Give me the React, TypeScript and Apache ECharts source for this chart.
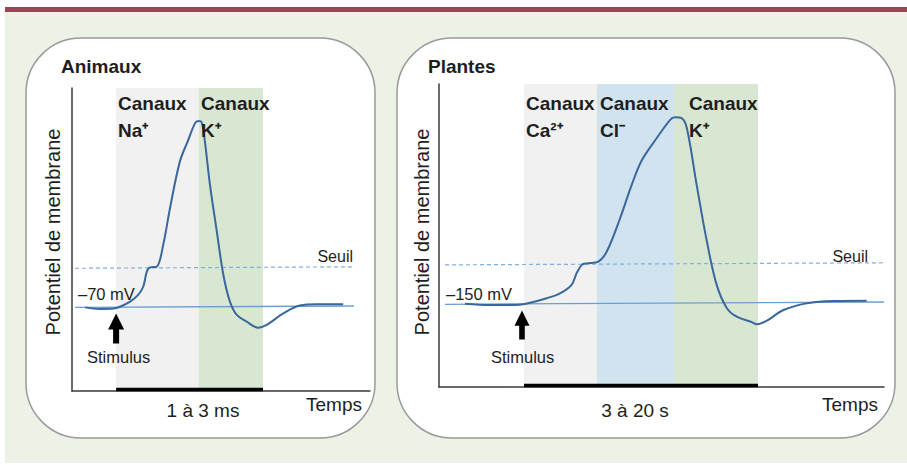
import React, { useEffect, useRef } from "react";
import * as echarts from "echarts";

// ---------- Data (relative units: time 0–100 along axis, potential 0–100 up the axis) ----------
// Animaux
const animalTime = [4.4, 9.4, 13.9, 16.1, 19.5, 22.2, 23.9, 25.1, 26.2, 28.4, 30.6, 32.9, 36.2, 39.0, 41.3, 42.4, 43.5, 44.6, 46.3, 48.6, 50.8, 53.0, 55.3, 58.6, 62.5, 65.3, 70.9, 76.5, 82.1, 91.0];
const animalPotential = [27.6, 27.1, 27.2, 27.8, 29.5, 31.7, 34.4, 39.4, 40.8, 41.0, 48.2, 60.4, 75.7, 82.8, 88.4, 89.1, 88.7, 82.3, 68.0, 52.6, 38.3, 29.5, 25.1, 22.9, 20.9, 21.8, 25.6, 28.2, 28.6, 28.6];
const animalChannelStart = [14.8, 42.6];
const animalChannelEnd = [42.6, 64.1];
const animalChannelIons = ["Na⁺", "K⁺"];
const animalThreshold = [[1.0, 40.5], [95.0, 41.0]];
const animalRest = [[1.0, 27.6], [94.6, 28.05]];
const animalStimulus = [14.8, 20.6];

// Plantes
const plantTime = [5.84, 11.46, 17.46, 20.45, 24.2, 27.2, 29.8, 30.9, 32.1, 33.2, 35.8, 37.7, 40.7, 43.3, 45.6, 48.9, 51.9, 53.0, 54.5, 55.7, 57.9, 60.2, 62.4, 64.7, 66.9, 70.3, 71.4, 73.6, 77.4, 82.6, 88.6, 96.1];
const plantPotential = [27.5, 27.1, 27.1, 27.8, 29.3, 30.9, 33.7, 37.5, 40.3, 40.8, 41.4, 44.7, 55.7, 66.7, 74.9, 82.1, 88.1, 89.0, 88.7, 85.4, 66.7, 48.0, 33.7, 26.0, 23.2, 21.4, 20.7, 21.8, 25.4, 27.6, 28.4, 28.5];
const plantChannelStart = [19.1, 35.5, 52.8];
const plantChannelEnd = [35.5, 52.8, 71.7];
const plantChannelIons = ["Ca²⁺", "Cl⁻", "K⁺"];
const plantThreshold = [[1.35, 40.3], [100, 41.0]];
const plantRest = [[1.35, 27.3], [100, 28.05]];
const plantStimulus = [18.65, 20.5];

const titles = ["Animaux", "Plantes"];
const restLabels = ["–70 mV", "–150 mV"];
const durations = ["1 à 3 ms", "3 à 20 s"];

// ---------- Styles ----------
const FONT = '"Liberation Sans", Arial, sans-serif';
const CURVE = "#3a679c";
const animalShades = ["#f1f1f1", "#d8e7d2"];
const plantShades = ["#f1f1f1", "#d2e3f0", "#d8e7d2"];
const ARROW = "path://M8,0 L16,16 L11,16 L11,30 L5,30 L5,16 L0,16 Z";

function panelSeries(
  gi: number,
  time: number[],
  pot: number[],
  starts: number[],
  ends: number[],
  shades: string[],
  threshold: number[][],
  rest: number[][],
  stim: number[],
  arrowSize: number[]
) {
  return [
    {
      type: "line",
      xAxisIndex: gi,
      yAxisIndex: gi,
      data: [[0, 0]],
      symbol: "none",
      lineStyle: { opacity: 0 },
      z: 1,
      silent: true,
      markArea: {
        silent: true,
        data: starts.map((s, i) => [
          { xAxis: s, itemStyle: { color: shades[i] } },
          { xAxis: ends[i] },
        ]),
      },
    },
    {
      type: "line",
      xAxisIndex: gi,
      yAxisIndex: gi,
      data: threshold,
      symbol: "none",
      lineStyle: { color: "#7fb0e0", width: 1.2, type: [4, 3] },
      z: 3,
    },
    {
      type: "line",
      xAxisIndex: gi,
      yAxisIndex: gi,
      data: rest,
      symbol: "none",
      lineStyle: { color: "#6a9fd4", width: 1.3 },
      z: 3,
    },
    {
      type: "line",
      xAxisIndex: gi,
      yAxisIndex: gi,
      data: time.map((t, i) => [t, pot[i]]),
      symbol: "none",
      smooth: 0.35,
      lineStyle: { color: CURVE, width: 2 },
      z: 4,
    },
    {
      type: "line",
      xAxisIndex: gi,
      yAxisIndex: gi,
      data: [
        [starts[0], 0.5],
        [ends[ends.length - 1], 0.5],
      ],
      symbol: "none",
      clip: false,
      lineStyle: { color: "#000", width: 3.5 },
      z: 5,
    },
    {
      type: "scatter",
      xAxisIndex: gi,
      yAxisIndex: gi,
      data: [stim],
      symbol: ARROW,
      symbolSize: arrowSize,
      itemStyle: { color: "#000000", opacity: 1 },
      z: 5,
    },
  ];
}

function txt(text: string, x: number, y: number, size: number, opts: any = {}) {
  const align = opts.align || "left";
  return {
    type: "text",
    x,
    y,
    rotation: opts.rotation || 0,
    z: 50,
    silent: true,
    style: {
      text,
      fill: opts.fill || "#1e1e1e",
      font: `${opts.bold ? "bold " : ""}${size}px ${FONT}`,
      align,
      textAlign: align,
      verticalAlign: "middle",
      textVerticalAlign: "middle",
    },
  };
}

export default function App() {
  const ref = useRef<HTMLDivElement>(null);

  useEffect(() => {
    if (!ref.current) return;
    const chart = echarts.init(ref.current, undefined, { renderer: "svg" });

    const axisBase = {
      type: "value",
      min: 0,
      max: 100,
      axisLine: { show: true, onZero: false, lineStyle: { color: "#3a3a3a", width: 1.5 } },
      axisTick: { show: false },
      axisLabel: { show: false },
      splitLine: { show: false },
    };

    const graphics: any[] = [
      { type: "rect", shape: { x: 5, y: 7, width: 902, height: 456 }, style: { fill: "#edf2e6" }, z: -20, silent: true },
      { type: "rect", shape: { x: 5, y: 7, width: 902, height: 5 }, style: { fill: "#974653" }, z: -19, silent: true },
      { type: "rect", shape: { x: 26, y: 38, width: 349, height: 400, r: 55 }, style: { fill: "#ffffff", stroke: "#9a9a9a", lineWidth: 1.5 }, z: -10, silent: true },
      { type: "rect", shape: { x: 397, y: 38, width: 498, height: 400, r: 55 }, style: { fill: "#ffffff", stroke: "#9a9a9a", lineWidth: 1.5 }, z: -10, silent: true },

      // Left panel texts
      txt(titles[0], 61, 66, 19, { bold: true }),
      txt("Canaux", 118, 103, 19, { bold: true }),
      txt(animalChannelIons[0], 118, 130, 19, { bold: true }),
      txt("Canaux", 201, 103, 19, { bold: true }),
      txt(animalChannelIons[1], 201, 130, 19, { bold: true }),
      txt("Seuil", 353, 256, 16, { align: "right" }),
      txt(restLabels[0], 78, 294, 16.5),
      txt("Stimulus", 87, 357, 16.5),
      txt(durations[0], 203, 410, 19, { align: "center" }),
      txt("Temps", 362, 404, 19, { align: "right" }),
      txt("Potentiel de membrane", 53, 232, 20, { align: "center", rotation: Math.PI / 2 }),

      // Right panel texts
      txt(titles[1], 428, 66, 19, { bold: true }),
      txt("Canaux", 526, 103, 19, { bold: true }),
      txt(plantChannelIons[0], 526, 130, 19, { bold: true }),
      txt("Canaux", 600, 103, 19, { bold: true }),
      txt(plantChannelIons[1], 600, 130, 19, { bold: true }),
      txt("Canaux", 689, 103, 19, { bold: true }),
      txt(plantChannelIons[2], 689, 130, 19, { bold: true }),
      txt("Seuil", 868, 256, 16, { align: "right" }),
      txt(restLabels[1], 446, 294, 16.5),
      txt("Stimulus", 491, 357, 16.5),
      txt(durations[1], 635, 410, 19, { align: "center" }),
      txt("Temps", 878, 404, 19, { align: "right" }),
      txt("Potentiel de membrane", 422, 232, 20, { align: "center", rotation: Math.PI / 2 }),
    ];

    chart.setOption({
      animation: false,
      backgroundColor: "#ffffff",
      grid: [
        { left: 72, top: 88, width: 298, height: 303 },
        { left: 439, top: 84, width: 445, height: 303 },
      ],
      xAxis: [
        { ...axisBase, gridIndex: 0 },
        { ...axisBase, gridIndex: 1 },
      ],
      yAxis: [
        { ...axisBase, gridIndex: 0 },
        { ...axisBase, gridIndex: 1 },
      ],
      graphic: { elements: graphics },
      series: [
        ...panelSeries(0, animalTime, animalPotential, animalChannelStart, animalChannelEnd, animalShades, animalThreshold, animalRest, animalStimulus, [16, 30]),
        ...panelSeries(1, plantTime, plantPotential, plantChannelStart, plantChannelEnd, plantShades, plantThreshold, plantRest, plantStimulus, [15, 29]),
      ],
    });

    return () => chart.dispose();
  }, []);

  return (
    <div
      ref={ref}
      style={{ position: "fixed", left: 0, top: 0, width: 907, height: 465 }}
    />
  );
}
